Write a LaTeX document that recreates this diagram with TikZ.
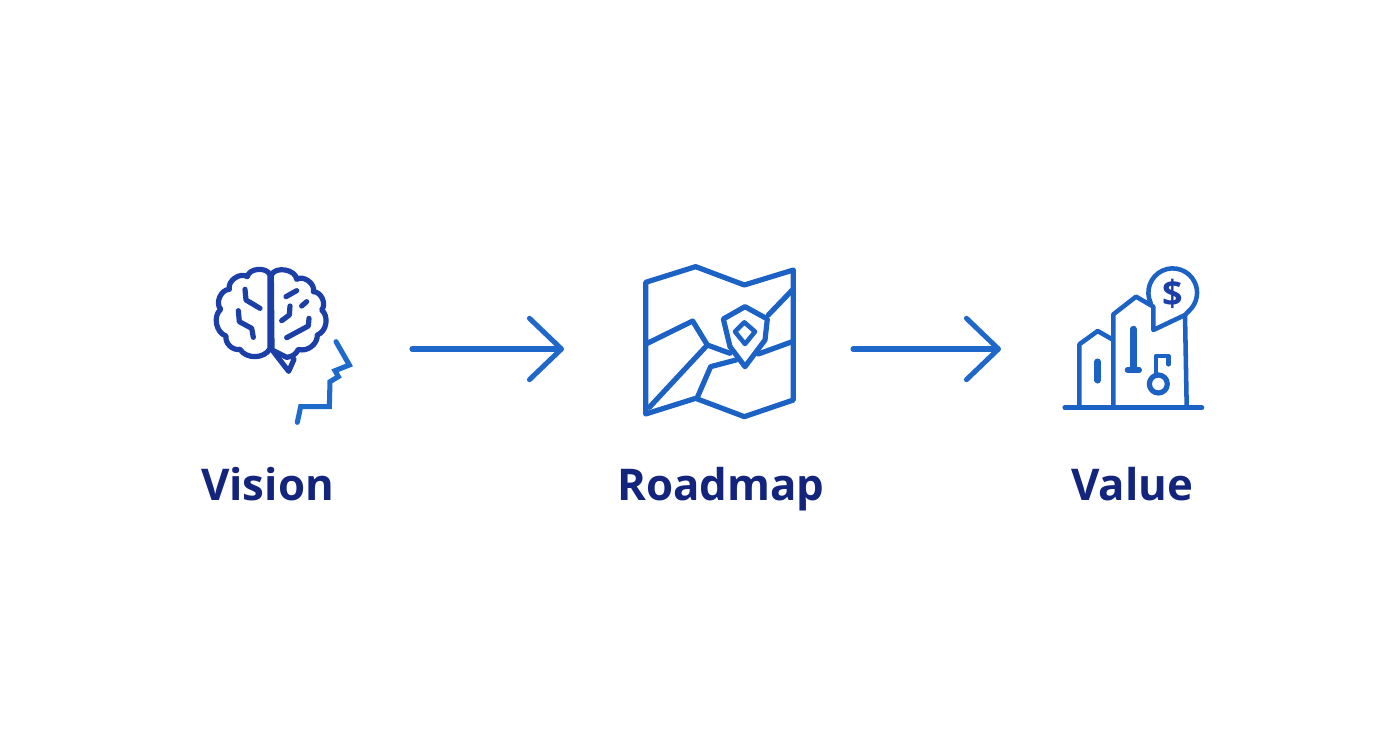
\documentclass[tikz,border=0pt]{standalone}
\usepackage{fontspec}
\setmainfont{Open Sans}
\usetikzlibrary{arrows.meta}
\definecolor{navy}{HTML}{12247C}
\definecolor{brainblue}{HTML}{1B3FA6}
\definecolor{faceblue}{HTML}{1E6BCB}
\definecolor{iconblue}{HTML}{1C62C4}
\definecolor{arrowblue}{HTML}{1F68C9}
\tikzset{
  x=0.75pt,y=-0.75pt,
  brain/.style={draw=brainblue,line width=3.9pt,line cap=round,line join=round},
  face/.style={draw=faceblue,line width=3.8pt,line cap=round,line join=miter},
  icon/.style={draw=iconblue,line width=3.9pt,line cap=round,line join=round},
  thin icon/.style={draw=iconblue,line width=3.4pt,line cap=round,line join=round},
  pill/.style={draw=iconblue,line width=4.8pt,line cap=round,line join=round},
  flow/.style={draw=arrowblue,line width=3.8pt,line cap=round,-{Straight Barb[length=24pt,width=46pt,line width=3.8pt,round]}},
  label/.style={font=\bfseries\fontsize{32.8}{36}\selectfont,text=navy,anchor=base,inner sep=0pt},
}
\begin{document}
\begin{tikzpicture}
\useasboundingbox (0,0) rectangle (1392,752);
\fill[white] (0,0) rectangle (1392,752);

% Brain (coordinates in zoomed units)
\begin{scope}[shift={(190,250)},x=0.25pt,y=-0.25pt]
  \draw[brain] (240,75) to[bend right=75] (172,80) to[bend right=70] (118,118)
     to[bend right=65] (92,178) to[bend right=60] (108,258) to[bend right=55] (150,298)
     to[bend right=60] (240,296) -- cycle;
  \draw[brain] (244,75) to[bend left=75] (320,88) to[bend left=70] (370,125)
     to[bend left=65] (395,180) to[bend left=60] (382,255) to[bend left=55] (325,298)
     to[bend left=30] (290,322) -- (246,300) -- cycle;
  \draw[brain] (248,302) -- (296,364) -- (312,328);
  \draw[brain] (165,118) -- (168,150) -- (210,175);
  \draw[brain] (145,182) -- (148,215) -- (185,235) -- (190,262);
  \draw[brain] (288,140) -- (320,122);
  \draw[brain] (335,168) -- (350,155);
  \draw[brain] (300,168) -- (298,195) -- (275,212);
  \draw[brain] (290,263) -- (355,228) -- (357,205);
  \draw[face] (438,275) -- (478,345) -- (435,362) -- (445,380) -- (420,395) -- (418,470) -- (332,470) -- (322,517);
\end{scope}

% Map
\begin{scope}[shift={(630,250)},x=0.25pt,y=-0.25pt]
  \draw[icon] (47,97) -- (197,50) -- (343,105) -- (490,60) -- (490,450) -- (343,500) -- (197,445) -- (47,492) -- cycle;
  \draw[icon] (52,280) -- (188,213) -- (232,285) -- (300,310);
  \draw[icon] (232,285) -- (58,472);
  \draw[icon] (203,440) -- (242,350) -- (318,330);
  \draw[icon] (385,312) -- (487,275);
  \draw[icon] (415,195) -- (487,120);
  \draw[icon] (280,207) -- (345,170) -- (412,207) -- (405,270) -- (345,350) -- (300,290) -- cycle;
  \draw[thin icon] (343,217) -- (375,245) -- (345,282) -- (315,245) -- cycle;
\end{scope}

% Value
\begin{scope}[shift={(1050,255)},x=0.25pt,y=-0.25pt]
  \draw[icon] (45,458) -- (455,458);
  \draw[thin icon] (88,452) -- (88,268) -- (143,228) -- (185,252);
  \draw[thin icon] (190,452) -- (190,178) -- (258,125) -- (310,155) -- (310,225) -- (405,180) -- (410,452);
  \draw[thin icon] (302,144) arc[start angle=155,end angle=400,radius=73] -- (405,180);
  \draw[pill] (143,320) -- (143,376);
  \draw[pill] (250,222) -- (250,345);
  \draw[icon] (232,345) -- (268,345);
  \draw[thin icon] (355,328) -- (355,303) -- (318,303) -- (318,352);
  \draw[icon] (325,387) circle[radius=27];
  \node[font=\bfseries\fontsize{27}{27}\selectfont,text=brainblue,inner sep=0pt] (dollar) at (367,116) {\$};
\end{scope}

% Connectors
\coordinate (flowAstart) at (412,349);
\coordinate (flowAend) at (564,349);
\coordinate (flowBstart) at (853,349);
\coordinate (flowBend) at (1001,349);
\draw[flow] (flowAstart) -- (flowAend);
\draw[flow] (flowBstart) -- (flowBend);

% Labels
\node[label] (vision) at (267.5,500) {Vision};
\node[label] (roadmap) at (721,500) {Roadmap};
\node[label] (value) at (1132,500) {Value};
\end{tikzpicture}
\end{document}
